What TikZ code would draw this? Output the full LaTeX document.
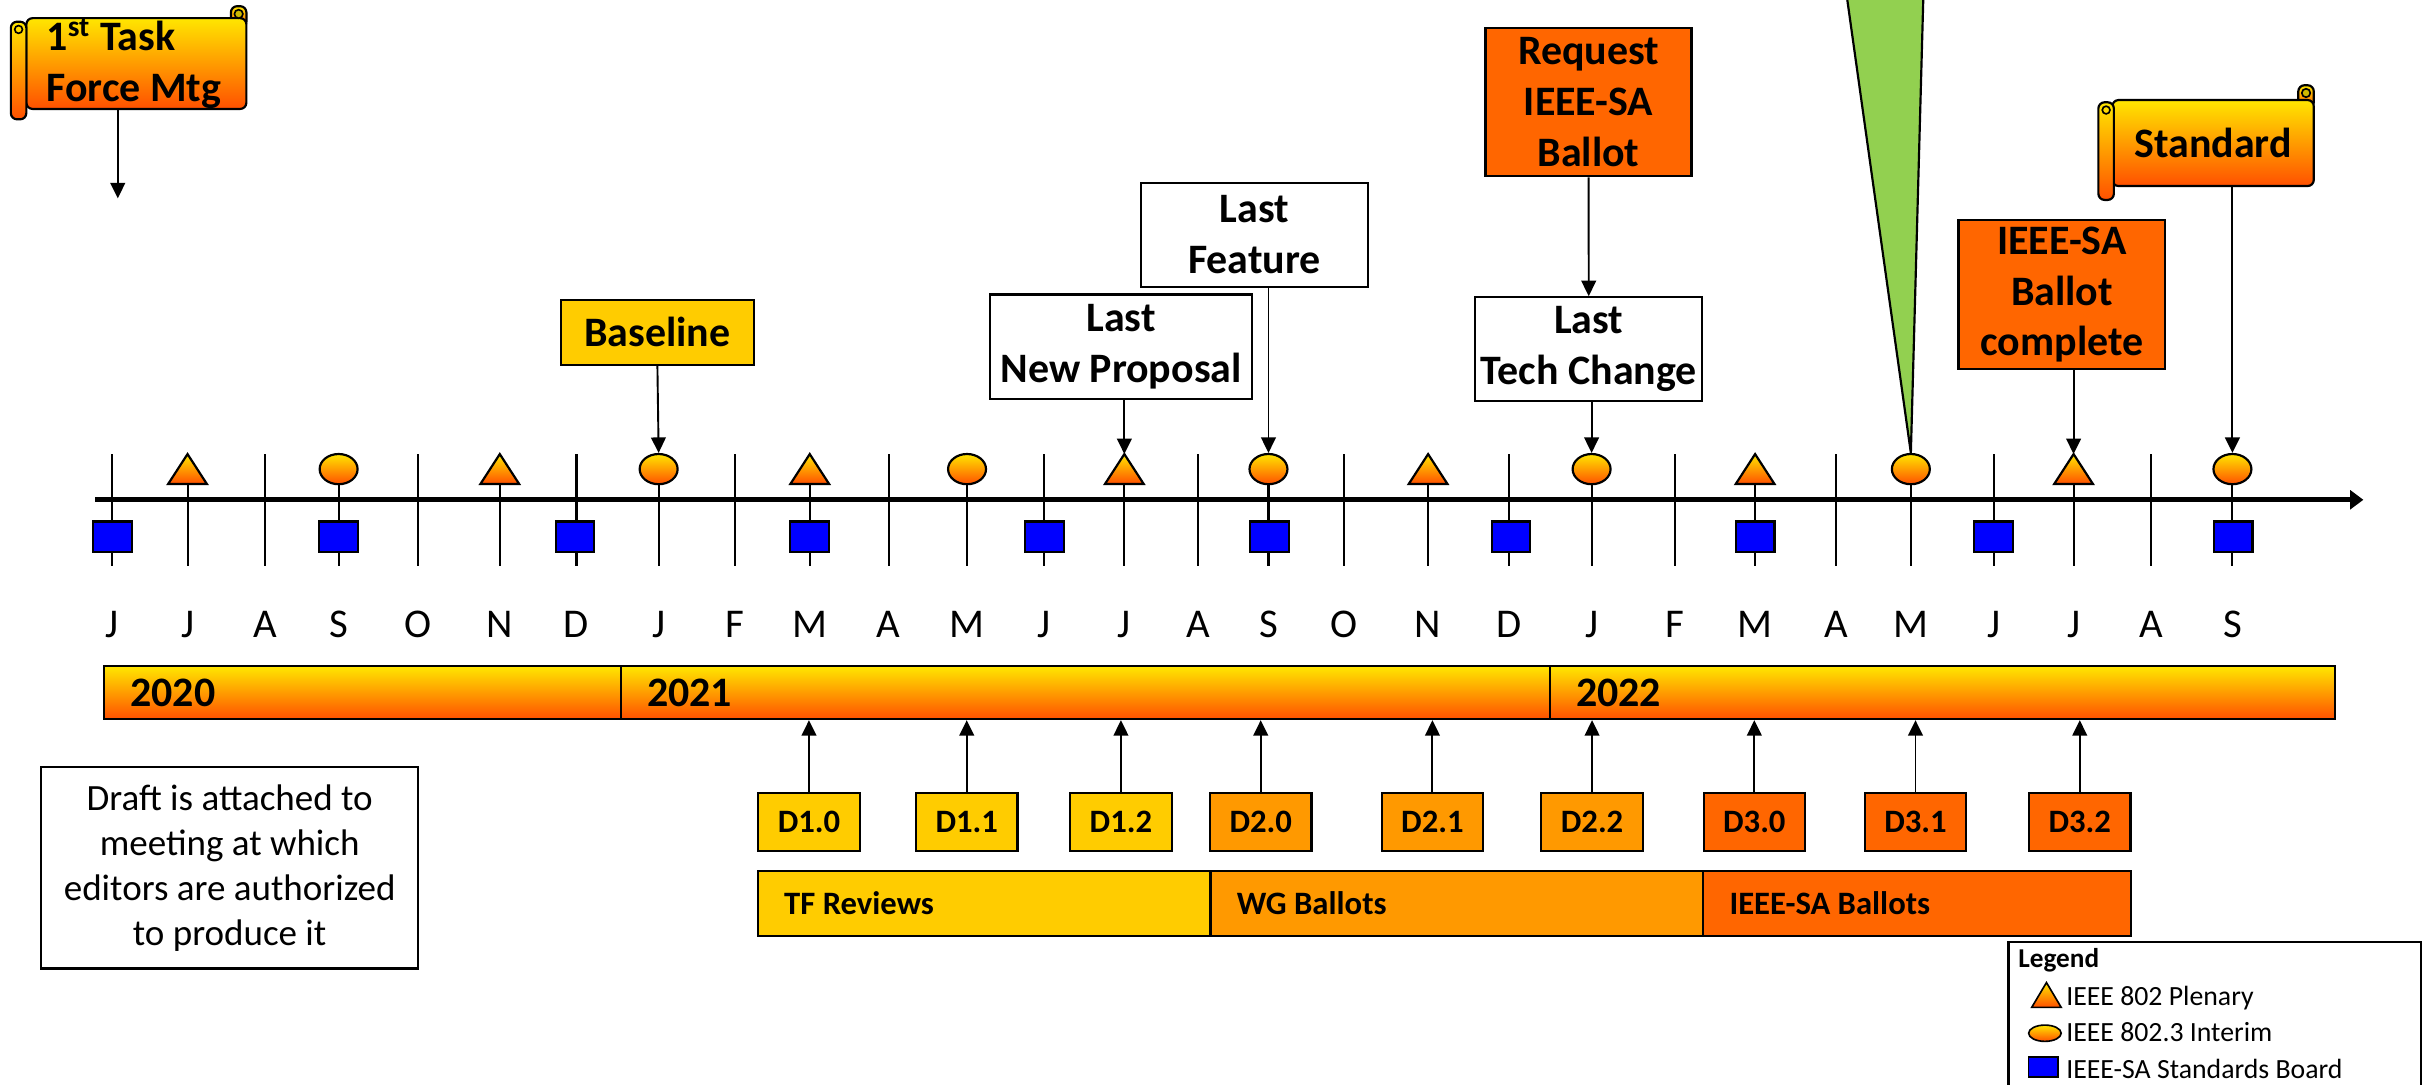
\documentclass[tikz,border=0pt]{standalone}
\usepackage{fontspec}
\setmainfont{Carlito}
\usepackage{tikz}
\usetikzlibrary{arrows.meta}
\usetikzlibrary{shapes.geometric}

\definecolor{gyel}{RGB}{255,230,0}
\definecolor{gred}{RGB}{255,80,0}
\definecolor{dgold}{RGB}{255,204,0}
\definecolor{dorange}{RGB}{255,153,0}
\definecolor{ddark}{RGB}{255,102,0}
\definecolor{sqblue}{RGB}{0,0,255}
\definecolor{wedge}{RGB}{146,208,80}
\definecolor{curl}{RGB}{204,184,0}

\tikzset{
	big/.style={font=\bfseries\fontsize{15.4}{18.7}\selectfont},
	box/.style={big, draw, fill=white, line width=0.8pt, align=center, inner sep=0pt},
	arr/.style={-{Triangle[length=0.2cm,width=0.19cm]}, line width=0.7pt},
	grad/.style={top color=gyel, bottom color=gred},
	interim/.style={ellipse, draw, grad, line width=0.8pt, minimum width=0.49cm, minimum height=0.39cm, inner sep=0pt},
	sboard/.style={rectangle, draw, fill=sqblue, line width=0.8pt, minimum width=0.5cm, minimum height=0.39cm, inner sep=0pt},
	draft/.style={draw, line width=0.8pt, font=\bfseries\fontsize{12}{14}\selectfont, minimum width=1.31cm, minimum height=0.75cm, inner sep=0pt},
	phase/.style={draw, line width=0.8pt, font=\bfseries\fontsize{12}{14}\selectfont, minimum height=0.84cm, inner xsep=0.34cm, inner ysep=0pt, align=flush left},
	year/.style={draw, grad, line width=0.8pt, big, minimum height=0.68cm, inner xsep=0.34cm, inner ysep=0pt, align=flush left},
	month/.style={font=\fontsize{15}{18}\selectfont, anchor=base, inner sep=0pt},
	scroll/.style={big, draw, grad, line width=0.8pt, rounded corners=0.08cm, inner sep=0pt},
	small/.style={font=\fontsize{10.2}{12}\selectfont, anchor=base west, inner sep=0pt},
}

\begin{document}
\begin{tikzpicture}[x=0.02cm, y=-0.02cm]
	%\draw [help lines] (0,0) grid (1568,700);
	\useasboundingbox (0,0) rectangle (1568,700);
	
	%MESI
	\foreach \x/\m [count=\i] in {72.5/J,121/J,171/A,218.5/S,269.5/O,322.5/N,372/D,425/J,474/F,522.5/M,573.5/A,624/M,673.5/J,725.5/J,773/A,818.5/S,867.5/O,921.5/N,974/D,1027/J,1081/F,1132.5/M,1185/A,1233/M,1286.5/J,1338/J,1388/A,1440.5/S}{
		\draw [line width=0.75pt] (\x,293) -- (\x,365);
		\node [month] (m\i) at (\x,411.3) {\m};
	}
	
	%ASSE
	\coordinate (ax0) at (61.5,322.5);
	\coordinate (ax1) at (1525,322.5);
	\draw [line width=1.7pt, -{Triangle[length=0.17cm,width=0.24cm]}] (ax0) -- (ax1);
	
	%PLENARY
	\foreach \x/\n in {121/jul20, 322.5/nov20, 522.5/mar21, 725.5/jul21, 921.5/nov21, 1132.5/mar22, 1338/jul22}{
		\shadedraw [grad, line width=0.8pt] (\x-12.5,312.3) -- (\x,293) -- (\x+12.5,312.3) -- cycle;
		\coordinate (p\n) at (\x,293);
	}
	%INTERIM
	\foreach \x/\n in {218.5/sep20, 425/jan21, 624/may21, 818.5/sep21, 1027/jan22, 1233/may22, 1440.5/sep22}
		\node [interim] (i\n) at (\x,302.7) {};
	%BOARD
	\foreach \x/\n in {72.5/jun20, 218.5/sep20, 371/dec20, 522.5/mar21, 674/jun21, 819/sep21, 975/dec21, 1132.5/mar22, 1286.5/jun22, 1441/sep22}
		\node [sboard] (b\n) at (\x,346.3) {};
	
	%ANNI
	\node [year, text width=5.99cm] (y2020) at (233.75,447) {2020};
	\node [year, text width=11.31cm] (y2021) at (700.25,447) {2021};
	\node [year, text width=9.45cm] (y2022) at (1253.25,447) {2022};
	
	%DRAFT
	\foreach \x/\n/\lbl/\c/\yr in {522/d10/D1.0/dgold/y2021, 623.8/d11/D1.1/dgold/y2021, 723.3/d12/D1.2/dgold/y2021, 813.5/d20/D2.0/dorange/y2021, 924.3/d21/D2.1/dorange/y2021, 1027.3/d22/D2.2/dorange/y2022, 1132/d30/D3.0/ddark/y2022, 1236/d31/D3.1/ddark/y2022, 1342/d32/D3.2/ddark/y2022}{
		\node [draft, fill=\c] (\n) at (\x,530.3) {\lbl};
		\draw [arr] (\n.north) -- (\n.north |- \yr.south);
	}
	
	%FASI
	\node [phase, fill=dgold, text width=5.16cm] (tfr) at (635,583) {TF Reviews};
	\node [phase, fill=dorange, text width=5.68cm] (wgb) at (940,583) {WG Ballots};
	\node [phase, fill=ddark, text width=4.84cm] (sab) at (1237,583) {IEEE-SA Ballots};
	
	%NOTA
	\node [draw, line width=0.8pt, font=\fontsize{13.6}{16.5}\selectfont, align=center, minimum width=4.87cm, minimum height=2.6cm, inner sep=0pt] (note) at (148.2,560) {Draft is attached to\\meeting at which\\editors are authorized\\to produce it};
	
	%BOX SOPRA
	\node [box, fill=dgold, minimum width=2.49cm, minimum height=0.84cm] (base) at (424.2,214.5) {Baseline};
	\node [box, minimum width=3.374cm, minimum height=1.346cm] (lnp) at (723.4,223.7) {Last\\New Proposal};
	\node [box, minimum width=2.93cm, minimum height=1.342cm] (lf) at (809.5,151.5) {Last\\Feature};
	\node [box, fill=ddark, minimum width=2.66cm, minimum height=1.916cm] (req) at (1025,65.9) {Request\\IEEE-SA\\Ballot};
	\node [box, minimum width=2.928cm, minimum height=1.344cm] (ltc) at (1025.2,225.4) {Last\\Tech Change};
	\node [box, fill=ddark, minimum width=2.67cm, minimum height=1.916cm] (bc) at (1330.5,190.1) {IEEE-SA\\Ballot\\complete};
	
	%PERGAMENE
	\shadedraw [grad, line width=0.8pt, rounded corners=0.08cm] (149,4) rectangle (159,18);
	\node [scroll, text width=2.32cm, inner xsep=0.26cm, minimum height=1.12cm, align=flush left] (tf) at (88,41) {1\textsuperscript{st} Task\\Force Mtg};
	\shadedraw [grad, line width=0.8pt, rounded corners=0.08cm] (7,14) rectangle (17,77);
	\filldraw [fill=curl, line width=0.6pt] (154,9) circle (0.055cm);
	\draw [line width=0.6pt] (12,19) circle (0.05cm);
	
	\shadedraw [grad, line width=0.8pt, rounded corners=0.08cm] (1483,55) rectangle (1493,70);
	\node [scroll, minimum width=2.6cm, minimum height=1.11cm] (std) at (1428,92.3) {Standard};
	\shadedraw [grad, line width=0.8pt, rounded corners=0.08cm] (1354,66) rectangle (1364,129);
	\filldraw [fill=curl, line width=0.6pt] (1488,60) circle (0.055cm);
	\draw [line width=0.6pt] (1359,71) circle (0.05cm);
	
	%FRECCE
	\coordinate (tfend) at (76,128);
	\draw [arr] (tfend |- tf.south) -- (tfend);
	\draw [arr] (base.south) -- (ijan21.north);
	\draw [arr] (lnp.south -| pjul21) -- (pjul21);
	\draw [arr] (lf.south -| isep21) -- (isep21.north);
	\draw [arr] (req) -- (ltc);
	\draw [arr] (ltc.south -| ijan22) -- (ijan22.north);
	\draw [arr] (bc.south -| pjul22) -- (pjul22);
	\draw [arr] (std.south -| isep22) -- (isep22.north);
	
	%CUNEO
	\filldraw [fill=wedge, line width=0.8pt] (1192,0) -- (imay22.north) -- (1241,0);
	
	%LEGENDA
	\draw [line width=0.8pt] (1296,608) rectangle (1562,720);
	\node [font=\bfseries\fontsize{10}{12}\selectfont, anchor=base west, inner sep=0pt] (lgd) at (1302,624) {Legend};
	\shadedraw [grad, line width=0.6pt] (1311,650) -- (1320.5,634) -- (1330,650) -- cycle;
	\node [interim, line width=0.6pt, minimum width=0.42cm, minimum height=0.21cm] (lint) at (1319.5,666.7) {};
	\node [sboard, line width=0.6pt, minimum width=0.38cm, minimum height=0.26cm] (lbrd) at (1318.5,688.5) {};
	\node [small] (lt1) at (1333,649) {IEEE 802 Plenary};
	\node [small] (lt2) at (1333,672) {IEEE 802.3 Interim};
	\node [small] (lt3) at (1333,696) {IEEE-SA Standards Board};
	
\end{tikzpicture}
\end{document}
